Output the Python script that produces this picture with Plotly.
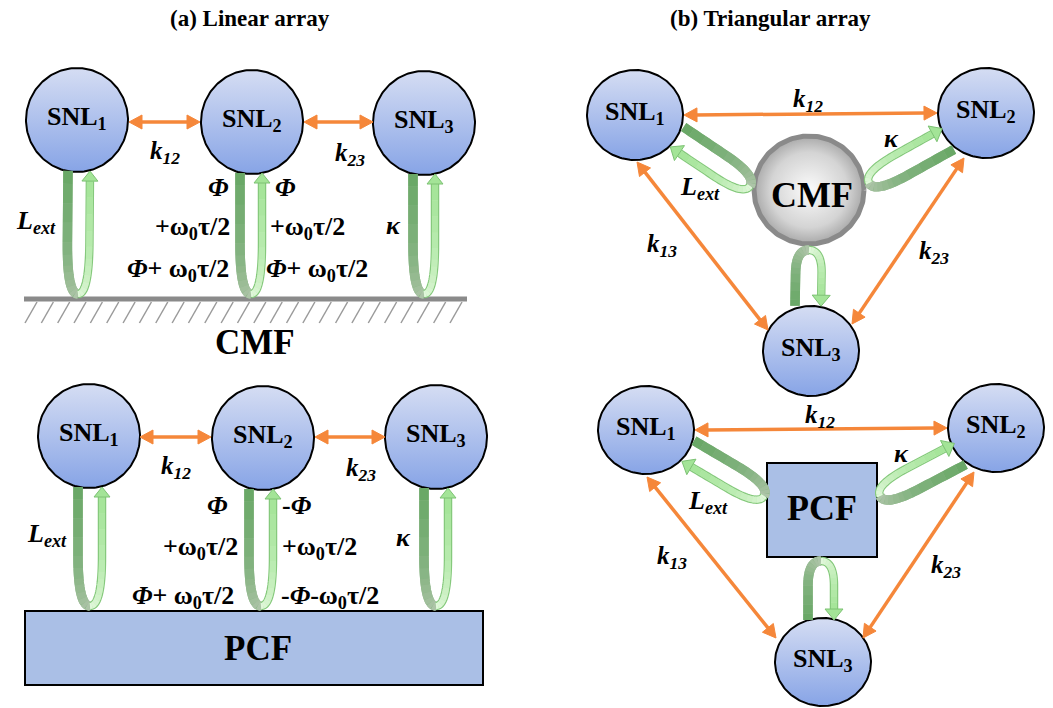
import numpy as np
import plotly.graph_objects as go

SUB = '<sub style="font-size:85%">'

# ---------------- text content ----------------
panel_titles = ["(a) Linear array", "(b) Triangular array"]
node_labels = ["SNL<sub>1</sub>", "SNL<sub>2</sub>", "SNL<sub>3</sub>"]
filter_labels = ["CMF", "PCF"]
linear_couplings = [f"k{SUB}12</sub>", f"k{SUB}23</sub>"]
triangle_couplings = [f"k{SUB}12</sub>", f"k{SUB}13</sub>", f"k{SUB}23</sub>"]
feedback_labels = [f"L{SUB}ext</sub>", "κ"]
cmf_phase_left = ["<i>Φ</i>", f"+ω{SUB}0</sub>τ/2", f"<i>Φ</i>+ ω{SUB}0</sub>τ/2"]
cmf_phase_right = ["<i>Φ</i>", f"+ω{SUB}0</sub>τ/2", f"<i>Φ</i>+ ω{SUB}0</sub>τ/2"]
pcf_phase_left = ["<i>Φ</i>", f"+ω{SUB}0</sub>τ/2", f"<i>Φ</i>+ ω{SUB}0</sub>τ/2"]
pcf_phase_right = ["-<i>Φ</i>", f"+ω{SUB}0</sub>τ/2", f"-<i>Φ</i>-ω{SUB}0</sub>τ/2"]

# ---------------- geometry (pixel coordinates) ----------------
W, H = 1053, 708
SERIF = "Liberation Serif, Times New Roman, serif"
ORANGE = "#f5873a"

lin_cmf_nodes = [(77, 120), (252, 122), (424, 123)]
lin_pcf_nodes = [(89, 436), (263, 438), (436, 437)]
tri_cmf_nodes = [(635, 115), (986, 113), (811, 351)]
tri_pcf_nodes = [(646, 430), (996, 428), (823, 662)]

lin_cmf_arrows = [((129, 122), (200, 122)), ((304, 122), (373, 122))]
lin_pcf_arrows = [((140, 437), (211, 437)), ((315, 437), (385, 437))]
tri_cmf_arrows = [((684, 115), (937, 113)), ((637, 162), (768, 330)), ((964, 158), (852, 324))]
tri_pcf_arrows = [((695, 430), (947, 428)), ((647, 477), (776, 638)), ((974, 472), (863, 638))]

# feedback loops: (tip at filter, attach point at laser, side, half spacing, head length, head half-width)
lin_cmf_loops = [((78, 294), (79, 171), 1, 11, 10, 8), ((251, 294), (251, 173), 1, 11, 10, 8),
                 ((424, 294), (424, 174), 1, 11, 10, 8)]
lin_pcf_loops = [((90, 606), (90, 487), 1, 12, 10, 8), ((261, 606), (261, 489), 1, 12, 10, 8),
                 ((436, 606), (436, 488), 1, 12, 10, 8)]
tri_cmf_loops = [((750, 186), (677, 137), -1, 12, 11, 9), ((869, 183), (948, 139), -1, 12, 11, 9),
                 ((809, 250), (808, 306), -1, 13, 11, 9)]
tri_pcf_loops = [((764, 496), (688, 451), -1, 12, 11, 9), ((880, 496), (960, 454), -1, 12, 11, 9),
                 ((821, 561), (821, 620), -1, 13, 11, 9)]

fig = go.Figure()
shapes = []
annotations = []


def text(x, y, s, size, bold=True, italic=False):
    if italic:
        s = f"<i>{s}</i>"
    if bold:
        s = f"<b>{s}</b>"
    annotations.append(dict(x=x, y=y, xref="x", yref="y", text=s, showarrow=False,
                            xanchor="center", yanchor="middle",
                            font=dict(family=SERIF, size=size, color="black")))


def mix(c0, c1, t):
    a = [int(c0[i:i + 2], 16) for i in (1, 3, 5)]
    b = [int(c1[i:i + 2], 16) for i in (1, 3, 5)]
    return "#" + "".join(f"{int(round(a[k] + (b[k] - a[k]) * t)):02x}" for k in range(3))


def path_of(pts):
    return "M " + " L ".join(f"{p[0]:.2f},{p[1]:.2f}" for p in pts)


def add_path(pts, color, width):
    shapes.append(dict(type="path", path=path_of(pts), xref="x", yref="y",
                       line=dict(color=color, width=width), layer="above"))


def grad_line(pts, c0, c1, width, nseg=12):
    add_path(pts, mix(c0, c1, 0.5), width)
    idx = np.linspace(0, len(pts) - 1, nseg + 1).astype(int)
    for i in range(nseg):
        seg = pts[idx[i]:idx[i + 1] + 1]
        add_path(seg, mix(c0, c1, (i + 0.5) / nseg), width)


def head(tip, d, hl, hw, color, edge=None):
    tip = np.asarray(tip, float)
    d = np.asarray(d, float)
    d = d / np.linalg.norm(d)
    n = np.array([-d[1], d[0]])
    b = tip - d * hl
    p1, p2 = b + n * hw, b - n * hw
    shapes.append(dict(type="path", xref="x", yref="y", layer="above",
                       path=f"M {tip[0]},{tip[1]} L {p1[0]},{p1[1]} L {p2[0]},{p2[1]} Z",
                       fillcolor=color, line=dict(color=edge or color, width=1)))


def double_arrow(p, q, hl=13, hw=7):
    p = np.asarray(p, float)
    q = np.asarray(q, float)
    d = (q - p) / np.linalg.norm(q - p)
    a, b = p + d * (hl - 2), q - d * (hl - 2)
    shapes.append(dict(type="line", x0=a[0], y0=a[1], x1=b[0], y1=b[1], xref="x", yref="y",
                       line=dict(color=ORANGE, width=3.5), layer="above"))
    head(q, d, hl, hw, ORANGE)
    head(p, -d, hl, hw, ORANGE)


def bez(p0, p1, p2, n=24):
    t = np.linspace(0, 1, n)[:, None]
    return (1 - t) ** 2 * p0 + 2 * (1 - t) * t * p1 + t ** 2 * p2


def feedback_loop(T, A, side, s, hl, hw, frac=0.42):
    T = np.asarray(T, float)
    A = np.asarray(A, float)
    u = A - T
    L = np.linalg.norm(u)
    u = u / L
    v = np.array([-u[1], u[0]]) * side
    d = frac * L
    # outgoing arm (laser -> filter), darker green
    straight = np.linspace(A - s * v, T + d * u - s * v, 12)
    curve = bez(T + d * u - s * v, T - s * v, T)
    dark = np.vstack([straight, curve[1:]])
    grad_line(dark, "#67a764", "#b0c5ab", 9.5)
    # returning arm (filter -> laser), light green with outline and arrow head
    curve2 = bez(T, T + s * v, T + d * u + s * v)
    base = A + s * v - hl * u
    straight2 = np.linspace(T + d * u + s * v, base, 12)
    light = np.vstack([curve2, straight2[1:]])
    add_path(light, "#86c97d", 8.5)
    grad_line(light, "#e4f8de", "#a3e497", 6)
    head(A + s * v, u, hl, hw, "#a3e497", "#7cc273")


def laser(cx, cy, rx, ry, label):
    t = np.linspace(0, 2 * np.pi, 181)
    fig.add_trace(go.Scatter(
        x=cx + rx * np.cos(t), y=cy + ry * np.sin(t), mode="lines", fill="toself",
        line=dict(color="black", width=2),
        fillgradient=dict(type="vertical", colorscale=[[0, "#d5ddf3"], [1, "#87a4e6"]],
                          start=cy - ry, stop=cy + ry),
        hoverinfo="skip", showlegend=False))
    text(cx, cy - 2, label, 26)


PH = 26  # phase label size
KS = 25  # coupling label size
FB = 26  # feedback label size

# ---------------- (a) linear array with CMF ----------------
for (cx, cy), lab in zip(lin_cmf_nodes, node_labels):
    laser(cx, cy, 51, 52, lab)
shapes.append(dict(type="line", x0=24, y0=299, x1=467, y1=299, xref="x", yref="y",
                   line=dict(color="#8a8a8a", width=5), layer="above"))
for x0 in np.linspace(25, 450, 27):
    shapes.append(dict(type="line", x0=x0, y0=323, x1=x0 + 12, y1=302, xref="x", yref="y",
                       line=dict(color="#9a9a9a", width=1.5), layer="above"))
for T, A, side, s, hl, hw in lin_cmf_loops:
    feedback_loop(T, A, side, s, hl, hw)
for p, q in lin_cmf_arrows:
    double_arrow(p, q)
text(165, 152, linear_couplings[0], KS, italic=True)
text(350, 154, linear_couplings[1], KS, italic=True)
text(36, 222, feedback_labels[0], FB, italic=True)
text(393, 225, feedback_labels[1], FB, italic=True)
for (x, y), lab in zip([(218, 187), (192, 228), (178, 270)], cmf_phase_left):
    text(x, y, lab, PH)
for (x, y), lab in zip([(285, 187), (307, 228), (317, 270)], cmf_phase_right):
    text(x, y, lab, PH)
text(255, 342, filter_labels[0], 35)

# ---------------- (a) linear array with PCF ----------------
for (cx, cy), lab in zip(lin_pcf_nodes, node_labels):
    laser(cx, cy, 51, 52, lab)
shapes.append(dict(type="rect", x0=25, y0=611, x1=483, y1=685, xref="x", yref="y",
                   fillcolor="#aabfe6", line=dict(color="black", width=2), layer="above"))
for T, A, side, s, hl, hw in lin_pcf_loops:
    feedback_loop(T, A, side, s, hl, hw)
for p, q in lin_pcf_arrows:
    double_arrow(p, q)
text(176, 467, linear_couplings[0], KS, italic=True)
text(361, 469, linear_couplings[1], KS, italic=True)
text(47, 535, feedback_labels[0], FB, italic=True)
text(403, 537, feedback_labels[1], FB, italic=True)
for (x, y), lab in zip([(217, 505), (200, 548), (183, 597)], pcf_phase_left):
    text(x, y, lab, PH)
for (x, y), lab in zip([(297, 505), (319, 548), (330, 597)], pcf_phase_right):
    text(x, y, lab, PH)
text(258, 648, filter_labels[1], 35)

# ---------------- (b) triangular array with CMF ----------------
for (cx, cy), lab in zip(tri_cmf_nodes, node_labels):
    laser(cx, cy, 48, 45, lab)
t = np.linspace(0, 2 * np.pi, 181)
fig.add_trace(go.Scatter(
    x=809 + 55 * np.cos(t), y=190 + 54 * np.sin(t), mode="lines", fill="toself",
    line=dict(color="#8a8a8a", width=5),
    fillgradient=dict(type="radial", colorscale=[[0, "#fbfbfb"], [0.7, "#d4d4d4"], [1, "#a9a9a9"]]),
    hoverinfo="skip", showlegend=False))
for T, A, side, s, hl, hw in tri_cmf_loops:
    feedback_loop(T, A, side, s, hl, hw)
for p, q in tri_cmf_arrows:
    double_arrow(p, q)
text(808, 100, triangle_couplings[0], KS, italic=True)
text(662, 245, triangle_couplings[1], KS, italic=True)
text(934, 252, triangle_couplings[2], KS, italic=True)
text(700, 188, feedback_labels[0], FB, italic=True)
text(891, 138, feedback_labels[1], FB, italic=True)
text(812, 195, filter_labels[0], 36)

# ---------------- (b) triangular array with PCF ----------------
for (cx, cy), lab in zip(tri_pcf_nodes, node_labels):
    laser(cx, cy, 48, 44, lab)
shapes.append(dict(type="rect", x0=767, y0=463, x1=877, y1=557, xref="x", yref="y",
                   fillcolor="#aabfe6", line=dict(color="black", width=2), layer="above"))
for T, A, side, s, hl, hw in tri_pcf_loops:
    feedback_loop(T, A, side, s, hl, hw)
for p, q in tri_pcf_arrows:
    double_arrow(p, q)
text(820, 416, triangle_couplings[0], KS, italic=True)
text(672, 557, triangle_couplings[1], KS, italic=True)
text(946, 566, triangle_couplings[2], KS, italic=True)
text(708, 502, feedback_labels[0], FB, italic=True)
text(901, 453, feedback_labels[1], FB, italic=True)
text(822, 508, filter_labels[1], 36)

# ---------------- titles ----------------
text(250, 18, panel_titles[0], 23)
text(770, 18, panel_titles[1], 23)

fig.update_layout(
    width=W, height=H, margin=dict(l=0, r=0, t=0, b=0),
    font=dict(family=SERIF, color="black"),
    paper_bgcolor="white", plot_bgcolor="white", showlegend=False,
    xaxis=dict(range=[0, W], visible=False, fixedrange=True),
    yaxis=dict(range=[H, 0], visible=False, fixedrange=True),
    shapes=shapes, annotations=annotations,
)
fig.write_html("out.html", config={"displayModeBar": False})
